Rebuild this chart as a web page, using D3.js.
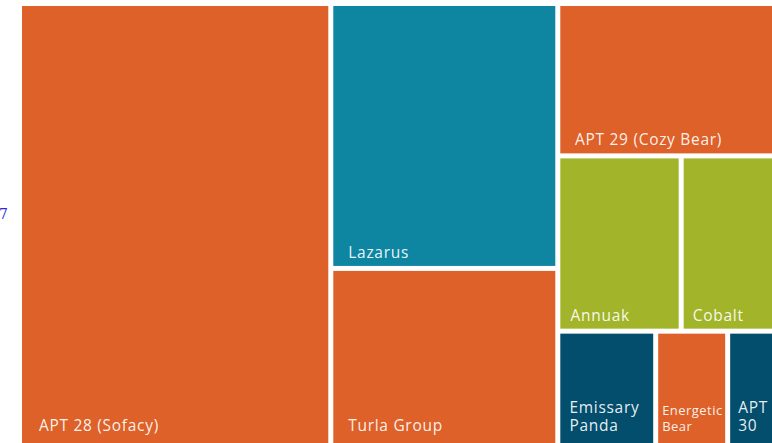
<!doctype html>
<html>
<head>
<meta charset="utf-8">
<script src="https://cdn.jsdelivr.net/npm/d3@7"></script>
<style>
  html, body { margin: 0; padding: 0; background: #fff; overflow: hidden; }
  svg { display: block; }
  .tile-label { font-family: "Open Sans", sans-serif; fill: #fff; fill-opacity: 0.92; }
  .stray { font-family: "DejaVu Serif", "Liberation Serif", serif; font-size: 14px; fill: #2a2ad8; }
</style>
</head>
<body>
<svg id="chart" width="772" height="443"></svg>
<script>
  // threat actors (relative tile areas)
  var actors = ['APT 28 (Sofacy)', 'Lazarus', 'Turla Group', 'APT 29 (Cozy Bear)', 'Annuak', 'Cobalt',
    'Emissary Panda', 'Energetic Bear', 'APT 30'];
  var counts = [410, 178, 121, 100, 64, 51, 34, 25, 18];
  var origins = ['Russia', 'North Korea', 'Russia', 'Russia', 'Other', 'Other', 'China', 'Russia', 'China'];
  // grouping of the tiles: column, then row inside the column
  var columns = [0, 1, 1, 2, 2, 2, 2, 2, 2];
  var rows = [0, 0, 1, 0, 1, 1, 2, 2, 2];

  var originNames = ['Russia', 'North Korea', 'Other', 'China'];
  var originColors = ['#dd6128', '#0e86a2', '#a2b52a', '#034e6d'];

  (function () {
    var W = 772, H = 443;
    var marginLeft = 22, marginTop = 6;
    var innerW = 755, innerH = 440;

    var color = d3.scaleOrdinal().domain(originNames).range(originColors);

    //build the nested structure: root -> columns -> rows -> actors
    var items = actors.map(function (name, i) {
      return { name: name, value: counts[i], origin: origins[i], col: columns[i], row: rows[i] };
    });

    function wrapSingle(list) {
      return list.length === 1 ? list[0] : { children: list };
    }

    var tree = {
      children: d3.groups(items, function (d) { return d.col; }).map(function (col) {
        var rowNodes = d3.groups(col[1], function (d) { return d.row; }).map(function (r) {
          return wrapSingle(r[1]);
        });
        return wrapSingle(rowNodes);
      })
    };

    var root = d3.hierarchy(tree)
      .sum(function (d) { return d.children ? 0 : d.value; });

    d3.treemap()
      .tile(d3.treemapSliceDice)
      .size([innerW, innerH])
      .paddingInner(5)(root);

    var svg = d3.select('#chart');

    svg.append('text')
      .attr('class', 'stray')
      .attr('x', -1)
      .attr('y', 219)
      .text('7');

    var g = svg.append('g').attr('transform', 'translate(' + marginLeft + ',' + marginTop + ')');

    var leaves = g.selectAll('g.leaf')
      .data(root.leaves())
      .enter().append('g')
      .attr('class', 'leaf')
      .attr('transform', function (d) { return 'translate(' + d.x0 + ',' + d.y0 + ')'; });

    leaves.append('rect')
      .attr('width', function (d) { return d.x1 - d.x0; })
      .attr('height', function (d) { return d.y1 - d.y0; })
      .attr('fill', function (d) { return color(d.data.origin); });

    // measure text with a throwaway node
    var probe = svg.append('text').attr('class', 'tile-label');
    function measure(str, size, spacing) {
      probe.attr('font-size', size).attr('letter-spacing', spacing).text(str);
      return probe.node().getComputedTextLength();
    }

    function splitLines(words, size, spacing, room) {
      var lines = [], cur = '';
      words.forEach(function (w) {
        var test = cur ? cur + ' ' + w : w;
        if (cur && measure(test, size, spacing) > room) {
          lines.push(cur);
          cur = w;
        } else {
          cur = test;
        }
      });
      if (cur) lines.push(cur);
      return lines;
    }

    leaves.each(function (d) {
      var w = d.x1 - d.x0;
      var size = 15.5, spacing = 0.7, lineH = 18;
      var pad = Math.max(8, Math.min(17, 5 + w * 0.045));
      var words = d.data.name.split(' ');
      var lines = splitLines(words, size, spacing, w - 2 * pad);
      var widest = d3.max(lines, function (l) { return measure(l, size, spacing); });
      if (widest > w - pad - 2) {
        size = 13;
        spacing = 0.45;
        lineH = 16;
        pad = 4;
        lines = splitLines(words, size, spacing, w - 2 * pad);
      }
      var bottom = Math.min(d.y1 + marginTop, H - 4) - marginTop - d.y0 - 8;

      var text = d3.select(this).append('text')
        .attr('class', 'tile-label')
        .attr('font-size', size)
        .attr('letter-spacing', spacing);
      lines.forEach(function (l, i) {
        text.append('tspan')
          .attr('x', pad)
          .attr('y', bottom - (lines.length - 1 - i) * lineH)
          .text(l);
      });
    });

    probe.remove();
  })();
</script>
</body>
</html>
